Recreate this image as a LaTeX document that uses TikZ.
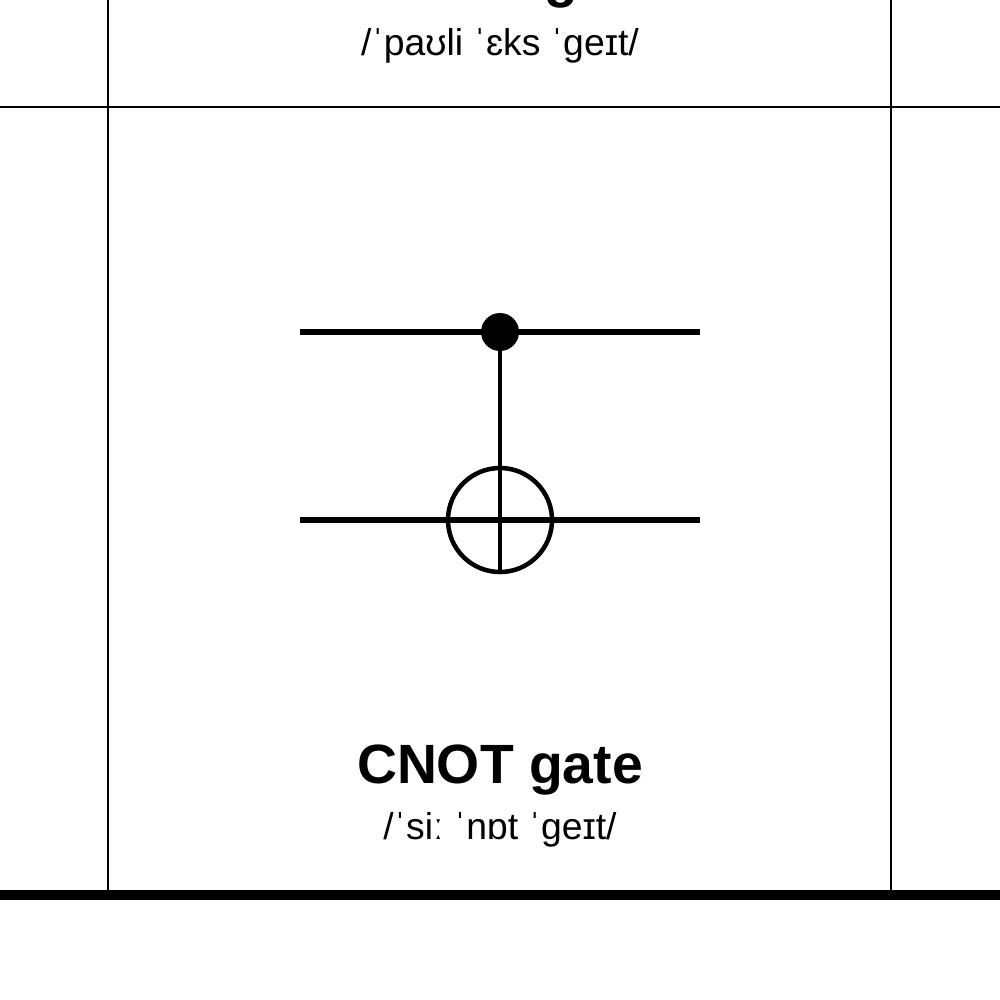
\documentclass[tikz,border=0pt]{standalone}
\usepackage{fontspec}
\setmainfont{Liberation Sans}
\begin{document}
\begin{tikzpicture}[x=0.75pt,y=-0.75pt,
  title/.style={font=\fontsize{41.5}{48}\selectfont\bfseries,anchor=base},
  ipa/.style={font=\fontsize{28}{32}\selectfont,anchor=base},
  wire/.style={line width=4.5pt}]
\useasboundingbox (0,0) rectangle (1000,1000);
\begin{scope}
\clip (0,0) rectangle (1000,1000);
\node[title] (t0) at (500,-4) {Pauli-X gate};
\end{scope}
\node[ipa] (p0) at (500,55) {/ˈpaʊli ˈɛks ˈgeɪt/};
\draw[line width=1.5pt] (0,107) -- (1000,107);
\draw[line width=1.5pt] (108,0) -- (108,893) (891,0) -- (891,893);
\draw[line width=7pt] (0,895) -- (1000,895);
\coordinate (a1) at (300,332); \coordinate (a2) at (700,332);
\coordinate (b1) at (300,520); \coordinate (b2) at (700,520);
\draw[wire] (a1) -- (a2);
\draw[wire] (b1) -- (b2);
\node[circle,fill=black,minimum size=28.5pt,inner sep=0] (c) at (500,332) {};
\node[circle,draw,line width=3.4pt,minimum size=78pt,inner sep=0] (t) at (500,520) {};
\draw[line width=3.4pt] (c.center) -- (t.south);
\node[title] (t1) at (500,783) {CNOT gate};
\node[ipa] (p1) at (500,839) {/ˈsiː ˈnɒt ˈgeɪt/};
\end{tikzpicture}
\end{document}
